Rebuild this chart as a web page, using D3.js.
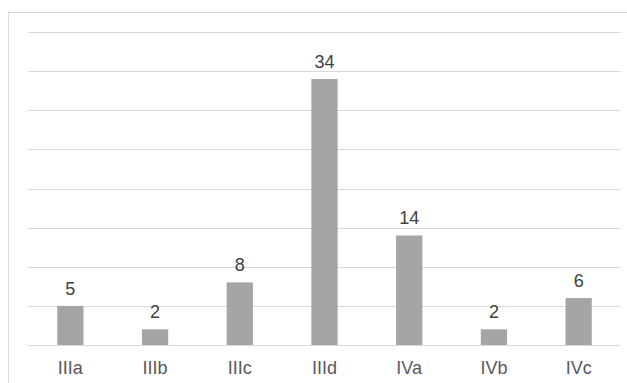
<!DOCTYPE html>
<html>
<head>
<meta charset="utf-8">
<script src="https://cdn.jsdelivr.net/npm/d3@7"></script>
<style>
  html, body { margin: 0; padding: 0; background: #fff; }
  svg { display: block; }
</style>
</head>
<body>
<div id="chart"></div>
<script>
// data
var categories = ["IIIa", "IIIb", "IIIc", "IIId", "IVa", "IVb", "IVc"];
var counts = [5, 2, 8, 34, 14, 2, 6];
var yTicks = [0, 5, 10, 15, 20, 25, 30, 35, 40];

var width = 627, height = 383;
var plot = { left: 28, right: 621, top: 32, bottom: 345 };

var svg = d3.select("#chart").append("svg")
    .attr("width", width)
    .attr("height", height);

// chart area border (right/bottom fall outside the crop)
svg.append("rect")
    .attr("x", 8.5).attr("y", 12.5)
    .attr("width", 640).attr("height", 400)
    .attr("fill", "#fff")
    .attr("stroke", "#d9d9d9")
    .attr("stroke-width", 1);

var x = d3.scaleBand()
    .domain(categories)
    .range([plot.left, plot.right])
    .paddingInner(0.69)
    .paddingOuter(0.345);

var y = d3.scaleLinear()
    .domain([0, 40])
    .range([plot.bottom, plot.top]);

// gridlines
svg.append("g")
    .selectAll("line")
    .data(yTicks)
    .enter()
    .append("line")
    .attr("x1", plot.left)
    .attr("x2", plot.right)
    .attr("y1", d => Math.round(y(d)) + 0.5)
    .attr("y2", d => Math.round(y(d)) + 0.5)
    .attr("stroke", "#d9d9d9")
    .attr("stroke-width", 1);

// bars
svg.append("g")
    .selectAll("rect")
    .data(counts)
    .enter()
    .append("rect")
    .attr("x", (d, i) => x(categories[i]))
    .attr("width", x.bandwidth())
    .attr("y", d => y(d))
    .attr("height", d => y(0) - y(d))
    .attr("fill", "#a5a5a5");

// value labels
svg.append("g")
    .selectAll("text")
    .data(counts)
    .enter()
    .append("text")
    .attr("x", (d, i) => x(categories[i]) + x.bandwidth() / 2)
    .attr("y", d => y(d) - 11)
    .attr("text-anchor", "middle")
    .attr("font-family", "'Liberation Sans', Arial, sans-serif")
    .attr("font-size", 18)
    .attr("fill", "#404040")
    .text(d => d);

// category axis
var xAxis = svg.append("g")
    .attr("transform", "translate(0," + plot.bottom + ")")
    .call(d3.axisBottom(x).tickSize(0).tickPadding(0));
xAxis.select(".domain").remove();
xAxis.selectAll("text")
    .attr("dy", null)
    .attr("y", 29)
    .attr("font-family", "'Liberation Sans', Arial, sans-serif")
    .attr("font-size", 18)
    .attr("fill", "#595959");
</script>
</body>
</html>
